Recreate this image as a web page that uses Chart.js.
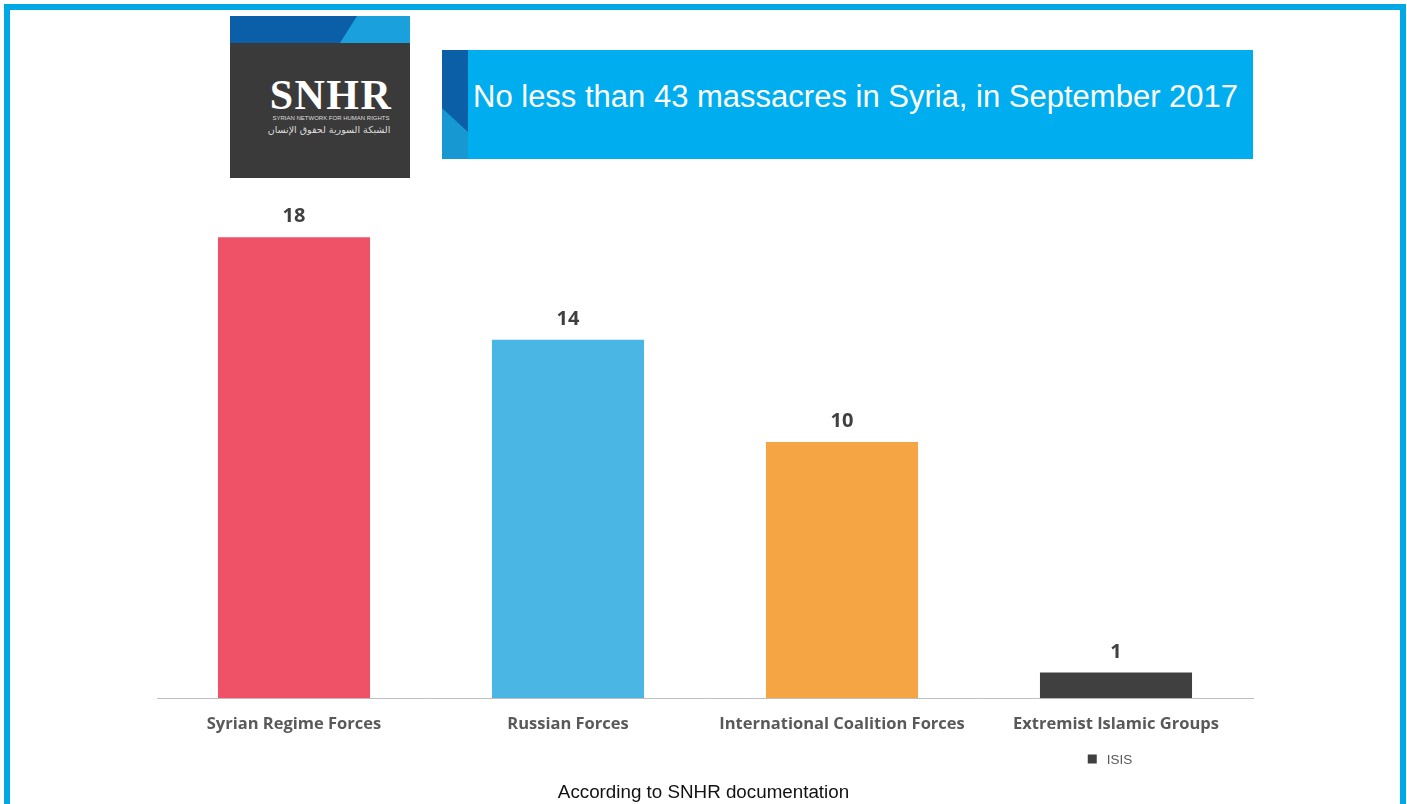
<!DOCTYPE html>
<html>
<head>
<meta charset="utf-8">
<script src="https://cdn.jsdelivr.net/npm/chart.js@4.4.1/dist/chart.umd.min.js"></script>
<style>
    html, body { margin: 0; padding: 0; background: #fff; }
    #page { position: relative; width: 1407px; height: 804px; overflow: hidden; background: #fff; }
    #frame { position: absolute; left: 4px; top: 4px; width: 1390px; height: 840px; border: 6px solid #00A8E6; }
    #chart { position: absolute; left: 0; top: 0; }
    /* logo */
    #logo { position: absolute; left: 230px; top: 16px; width: 180px; height: 162px; background: #3b3a3a; overflow: hidden; }
    #logo .band { position: absolute; left: 0; top: 0; width: 180px; height: 27px; background: #1ba0de; }
    #logo .band-dark { position: absolute; left: 0; top: 0; width: 180px; height: 27px; background: #0b5fa9;
        clip-path: polygon(0 0, 127px 0, 110px 100%, 0 100%); }
    #logo .name { position: absolute; left: 11px; width: 180px; top: 58px; text-align: center; color: #fff;
        font-family: "Liberation Serif", "DejaVu Serif", serif; font-weight: bold; font-size: 42px; letter-spacing: 1.5px; line-height: 42px; }
    #logo .en { position: absolute; left: 11px; width: 180px; top: 99px; text-align: center; color: #ddd;
        font-family: "Liberation Sans Narrow", "Liberation Sans", sans-serif; font-size: 6px; line-height: 7px; }
    #logo .ar { position: absolute; left: 9px; width: 180px; top: 108px; text-align: center; color: #ddd;
        font-family: "DejaVu Sans", "Noto Sans", sans-serif; font-size: 9.5px; line-height: 12px; }
    /* title banner */
    #banner { position: absolute; left: 442px; top: 50px; width: 811px; height: 109px; background: #00AEEF; overflow: hidden; }
    #banner .strip { position: absolute; left: 0; top: 0; width: 26px; height: 109px; background: #1798d2; }
    #banner .strip-dark { position: absolute; left: 0; top: 0; width: 26px; height: 109px; background: #0b5fa6;
        clip-path: polygon(0 0, 100% 0, 100% 82px, 0 58px); }
    #banner .title { position: absolute; left: 31px; top: 27px; color: #fff; white-space: nowrap;
        font-family: "Liberation Sans", Arial, sans-serif; font-size: 31px; line-height: 40px; }
    #footer { position: absolute; left: 0; width: 1407px; top: 781px; text-align: center; color: #111;
        font-family: "Liberation Sans", Arial, sans-serif; font-size: 18.8px; line-height: 22px; }
</style>
</head>
<body>
<div id="page">
    <canvas id="chart" width="1407" height="804"></canvas>
    <div id="frame"></div>
    <div id="logo">
        <div class="band"></div>
        <div class="band-dark"></div>
        <div class="name">SNHR</div>
        <div class="en">SYRIAN NETWORK FOR HUMAN RIGHTS</div>
        <div class="ar">الشبكة السورية لحقوق الإنسان</div>
    </div>
    <div id="banner">
        <div class="strip"></div>
        <div class="strip-dark"></div>
        <div class="title">No less than 43 massacres in Syria, in September 2017</div>
    </div>
    <div id="footer">According to SNHR documentation</div>
</div>
<script>
// --- DATA ---
const categories = ['Syrian Regime Forces', 'Russian Forces', 'International Coalition Forces', 'Extremist Islamic Groups'];
const massacres = [18, 14, 10, 1];
const barColors = ['#EF5167', '#4AB6E3', '#F5A543', '#404040'];
const legendLabel = 'ISIS';
const legendColor = '#404040';
const legendIndex = 3;

// value labels above each bar
const valueLabels = {
    id: 'valueLabels',
    afterDatasetsDraw(chart) {
        const ctx = chart.ctx;
        const meta = chart.getDatasetMeta(0);
        ctx.save();
        ctx.font = 'bold 20px "Open Sans", sans-serif';
        ctx.fillStyle = '#404040';
        ctx.textAlign = 'center';
        ctx.textBaseline = 'alphabetic';
        meta.data.forEach((bar, i) => {
            ctx.fillText(String(massacres[i]), bar.x, bar.y - 15);
        });
        ctx.restore();
    }
};

// small legend under the last category
const isisLegend = {
    id: 'isisLegend',
    afterDraw(chart) {
        const ctx = chart.ctx;
        const x = chart.scales.x.getPixelForValue(legendIndex);
        ctx.save();
        ctx.font = '13.5px "Liberation Sans", Arial, sans-serif';
        const tw = ctx.measureText(legendLabel).width;
        const box = 9, gap = 10;
        const start = x - 6 - (box + gap + tw) / 2;
        const y = 759;
        ctx.fillStyle = legendColor;
        ctx.fillRect(start, y - box / 2, box, box);
        ctx.fillStyle = '#595959';
        ctx.textBaseline = 'middle';
        ctx.fillText(legendLabel, start + box + gap, y + 1);
        ctx.restore();
    }
};

function setupChart() {
    const ctx = document.getElementById('chart').getContext('2d');
    return new Chart(ctx, {
        type: 'bar',
        data: {
            labels: categories,
            datasets: [{
                label: legendLabel,
                data: massacres,
                backgroundColor: barColors,
                borderWidth: 0,
                categoryPercentage: 1,
                barPercentage: 0.555
            }]
        },
        options: {
            responsive: false,
            animation: false,
            devicePixelRatio: 1,
            layout: { padding: { left: 157, right: 154, top: 186, bottom: 54 } },
            plugins: { legend: { display: false }, tooltip: { enabled: false } },
            scales: {
                x: {
                    grid: { display: false, drawTicks: false },
                    border: { display: true, color: '#BFBFBF', width: 1 },
                    ticks: {
                        padding: 16,
                        color: '#595959',
                        font: { family: '"Open Sans", sans-serif', size: 16.5, weight: 'bold' }
                    }
                },
                y: { display: false, min: 0, max: 20 }
            }
        },
        plugins: [valueLabels, isisLegend]
    });
}

setupChart();
</script>
</body>
</html>
